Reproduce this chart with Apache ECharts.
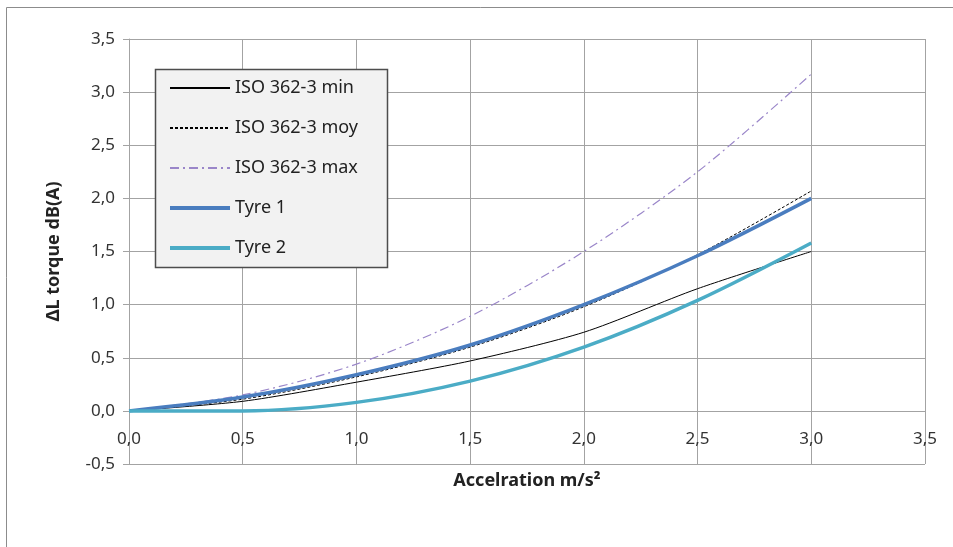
<!DOCTYPE html>
<html>
<head>
<meta charset="utf-8">
<script src="https://cdn.jsdelivr.net/npm/echarts@6/dist/echarts.min.js"></script>
<style>
  html, body { margin: 0; padding: 0; background: #fff; }
  #chart { width: 953px; height: 547px; }
</style>
</head>
<body>
<div id="chart"></div>
<script>
// acceleration (m/s²) and ΔL torque values
var accel = [0, 0.5, 1.0, 1.5, 2.0, 2.5, 3.0];
var isoMin = [0, 0.09, 0.27, 0.47, 0.74, 1.15, 1.50];
var isoMoy = [0, 0.11, 0.32, 0.60, 0.98, 1.47, 2.07];
var isoMax = [0, 0.15, 0.44, 0.89, 1.50, 2.25, 3.17];
var tyre1 = [0, 0.13, 0.34, 0.62, 1.00, 1.46, 2.00];
var tyre2 = [0, 0.00, 0.08, 0.28, 0.60, 1.04, 1.58];
var seriesNames = ["ISO 362-3 min", "ISO 362-3 moy", "ISO 362-3 max", "Tyre 1", "Tyre 2"];

function pairs(ys) {
  var out = [];
  for (var i = 0; i < accel.length; i++) {
    out.push([accel[i], ys[i]]);
  }
  return out;
}

function comma(v) {
  return v.toFixed(1).replace(".", ",");
}

var font = "'Noto Sans', sans-serif";
var gridColor = "#a3a3a3";

var myChart = echarts.init(document.getElementById("chart"));
var option = {
  animation: false,
  textStyle: { fontFamily: font },
  grid: { left: 129, top: 39, right: 28, bottom: 83 },
  graphic: [
    {
      type: "rect",
      shape: { x: 6.5, y: 7.5, width: 980, height: 600 },
      style: { fill: "none", stroke: "#8c8c8c", lineWidth: 1 },
      z: 1
    },
    {
      type: "rect",
      shape: { x: 155.5, y: 69.5, width: 232, height: 198 },
      style: { fill: "#f2f2f2", stroke: "#4d4d4d", lineWidth: 1.5 },
      z: 3
    }
  ],
  legend: {
    orient: "vertical",
    left: 163,
    top: 74,
    itemWidth: 60,
    itemHeight: 14,
    itemGap: 22,
    z: 5,
    data: [
      seriesNames[0],
      seriesNames[1],
      seriesNames[2],
      { name: seriesNames[3], lineStyle: { width: 4 } },
      { name: seriesNames[4], lineStyle: { width: 4 } }
    ],
    itemStyle: { opacity: 0 },
    textStyle: { fontFamily: font, fontSize: 18, color: "#222" }
  },
  xAxis: {
    type: "value",
    min: 0,
    max: 3.5,
    interval: 0.5,
    name: "Accelration m/s²",
    nameLocation: "middle",
    nameGap: 8,
    nameTextStyle: { fontFamily: font, fontSize: 18, fontWeight: "bold", color: "#222", verticalAlign: "top" },
    axisLine: { show: false },
    axisTick: { show: false },
    axisLabel: { margin: -33, fontSize: 17, color: "#333", formatter: comma },
    splitLine: { lineStyle: { color: gridColor, width: 1 } }
  },
  yAxis: {
    type: "value",
    min: -0.5,
    max: 3.5,
    interval: 0.5,
    name: "ΔL torque dB(A)",
    nameLocation: "middle",
    nameGap: 66,
    nameRotate: 90,
    nameTextStyle: { fontFamily: font, fontSize: 18, fontWeight: "bold", color: "#222" },
    axisLine: { show: true, lineStyle: { color: gridColor } },
    axisTick: { show: true, length: 6, lineStyle: { color: gridColor } },
    axisLabel: { margin: 14, fontSize: 17, color: "#333", formatter: comma },
    splitLine: { lineStyle: { color: gridColor, width: 1 } }
  },
  series: [
    {
      name: seriesNames[0],
      type: "line",
      smooth: 0.25,
      symbol: "none",
      color: "#000000",
      lineStyle: { color: "#000000", width: 1 },
      data: pairs(isoMin)
    },
    {
      name: seriesNames[1],
      type: "line",
      smooth: 0.3,
      symbol: "none",
      color: "#000000",
      lineStyle: { color: "#000000", width: 1, type: [3, 2] },
      data: pairs(isoMoy)
    },
    {
      name: seriesNames[2],
      type: "line",
      smooth: 0.3,
      symbol: "none",
      color: "#9a86c9",
      lineStyle: { color: "#9a86c9", width: 1.2, type: [9, 4, 2, 4] },
      data: pairs(isoMax)
    },
    {
      name: seriesNames[3],
      type: "line",
      smooth: 0.3,
      symbol: "none",
      color: "#4a7dbf",
      lineStyle: { color: "#4a7dbf", width: 3.5 },
      data: pairs(tyre1)
    },
    {
      name: seriesNames[4],
      type: "line",
      smooth: 0.3,
      symbol: "none",
      color: "#4bacc6",
      lineStyle: { color: "#4bacc6", width: 3.5 },
      data: pairs(tyre2)
    }
  ]
};
myChart.setOption(option);
</script>
</body>
</html>
